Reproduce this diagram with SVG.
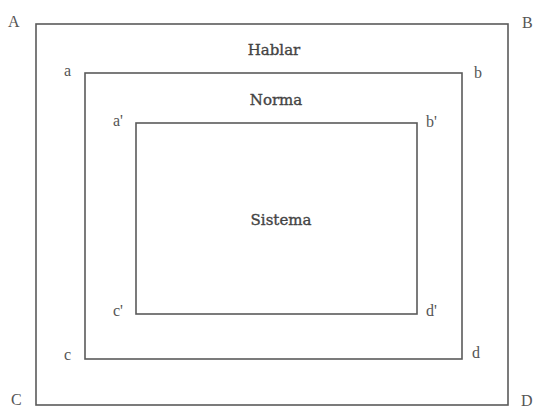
<svg xmlns="http://www.w3.org/2000/svg" width="536" height="408" viewBox="0 0 536 408">
<style>
.box{fill:none;stroke:#5a5a5a;stroke-width:1.6}
.lbl{font-family:"Liberation Serif","DejaVu Serif",serif;font-size:16px;fill:#555}
.ttl{font-family:"DejaVu Serif","Liberation Serif",serif;font-size:15px;fill:#444;stroke:#444;stroke-width:0.35;text-anchor:middle}
</style>
<rect width="536" height="408" fill="#fff"/>
<g id="connectors"></g>
<g id="hablar">
<rect class="box" x="36" y="24" width="472" height="381"/>
<text class="ttl" x="274" y="55">Hablar</text>
<text class="lbl" x="8" y="27">A</text>
<text class="lbl" x="522" y="28">B</text>
<text class="lbl" x="11" y="405">C</text>
<text class="lbl" x="521" y="406">D</text>
</g>
<g id="norma">
<rect class="box" x="85" y="73" width="377" height="286"/>
<text class="ttl" x="276" y="105">Norma</text>
<text class="lbl" x="64" y="76">a</text>
<text class="lbl" x="474" y="78">b</text>
<text class="lbl" x="64" y="360">c</text>
<text class="lbl" x="472" y="358">d</text>
</g>
<g id="sistema">
<rect class="box" x="136" y="123" width="281" height="191"/>
<text class="ttl" x="281" y="225">Sistema</text>
<text class="lbl" x="113" y="126">a'</text>
<text class="lbl" x="426" y="127">b'</text>
<text class="lbl" x="113" y="316">c'</text>
<text class="lbl" x="426" y="316">d'</text>
</g>
</svg>
